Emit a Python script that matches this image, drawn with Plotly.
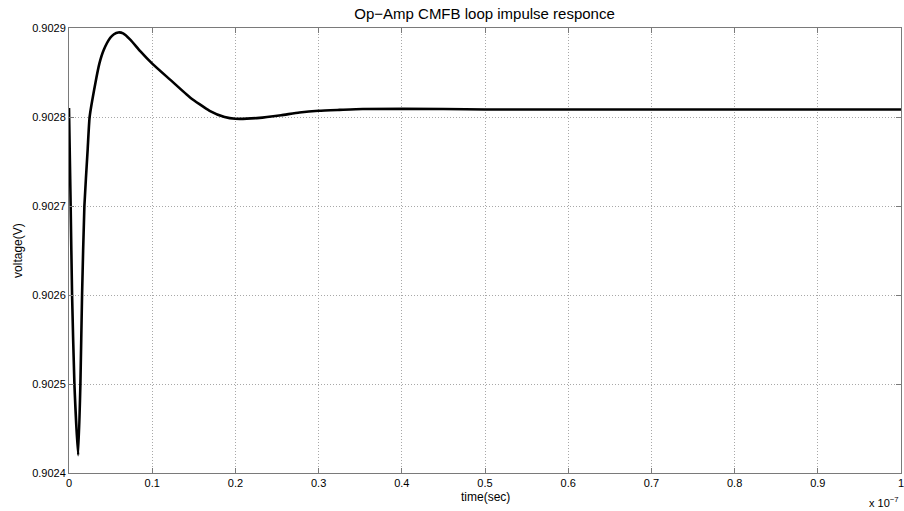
import plotly.graph_objects as go

# time in units of 1e-7 s
time_s = [0, 0.002, 0.0037, 0.0065, 0.011, 0.0137, 0.0157, 0.0185, 0.0224, 0.0248,
          0.0317, 0.0365, 0.0416, 0.0496, 0.054, 0.0592, 0.065, 0.0736, 0.0856, 0.1, 0.1215,
          0.1455, 0.169, 0.187, 0.2, 0.229, 0.255, 0.277, 0.3, 0.325, 0.353, 0.45, 0.5, 1.0]
voltage = [0.90281, 0.90270, 0.90260, 0.90250, 0.90242, 0.90250, 0.90260, 0.90270, 0.902763, 0.90280,
           0.902838, 0.902860, 0.902875, 0.902889, 0.902893, 0.902895, 0.902894, 0.902887, 0.902874, 0.902860, 0.902842,
           0.902822, 0.902807, 0.902800, 0.902798, 0.902799, 0.902802, 0.902805, 0.902807, 0.902808, 0.902809, 0.902809, 0.9028085, 0.9028085]

x_ticks = [0, 0.1, 0.2, 0.3, 0.4, 0.5, 0.6, 0.7, 0.8, 0.9, 1]
x_labels = ["0", "0.1", "0.2", "0.3", "0.4", "0.5", "0.6", "0.7", "0.8", "0.9", "1"]
y_ticks = [0.9024, 0.9025, 0.9026, 0.9027, 0.9028, 0.9029]
y_labels = ["0.9024", "0.9025", "0.9026", "0.9027", "0.9028", "0.9029"]

fig = go.Figure()
fig.add_trace(go.Scatter(x=time_s, y=voltage, mode="lines",
                         line=dict(color="black", width=2.6, shape="spline", smoothing=0.5),
                         showlegend=False))

axis_common = dict(showline=True, mirror="ticks", linecolor="#7a7a7a", linewidth=1,
                   ticks="inside", ticklen=5, tickcolor="#7a7a7a", automargin=False,
                   showgrid=True, gridcolor="#a8a8a8", griddash="1px,2px", gridwidth=1,
                   zeroline=False, ticklabeloverflow="allow",
                   tickfont=dict(size=11, color="black",
                                 family="Liberation Sans, Arial, sans-serif"))

fig.update_xaxes(range=[0, 1], tickvals=x_ticks, ticktext=x_labels, **axis_common)
fig.update_yaxes(range=[0.9024, 0.9029], tickvals=y_ticks, ticktext=y_labels, **axis_common)

fig.update_layout(
    width=904, height=511,
    margin=dict(l=69, r=3, t=28, b=38, autoexpand=False),
    paper_bgcolor="white", plot_bgcolor="white",
    font=dict(family="Liberation Sans, Arial, sans-serif", size=11, color="black"),
    title=dict(text="Op\u2212Amp CMFB loop impulse responce", x=0.536, xanchor="center",
               y=0.9726, yanchor="middle", font=dict(size=15, color="black")),
    annotations=[
        dict(text="time(sec)", xref="paper", yref="paper", x=0.5, y=-0.054,
             xanchor="center", yanchor="middle", showarrow=False, font=dict(size=12)),
        dict(text="voltage(V)", xref="paper", yref="paper", x=-0.062, y=0.5,
             xanchor="center", yanchor="middle", textangle=-90, showarrow=False,
             font=dict(size=12)),
        dict(text="x 10<sup>\u22127</sup>", xref="paper", yref="paper", x=0.98, y=-0.066,
             xanchor="center", yanchor="middle", showarrow=False, font=dict(size=11)),
    ],
)

fig.write_html("out.html", config={"displayModeBar": False},
               post_script="document.body.style.margin='0';document.body.style.overflow='hidden';")
